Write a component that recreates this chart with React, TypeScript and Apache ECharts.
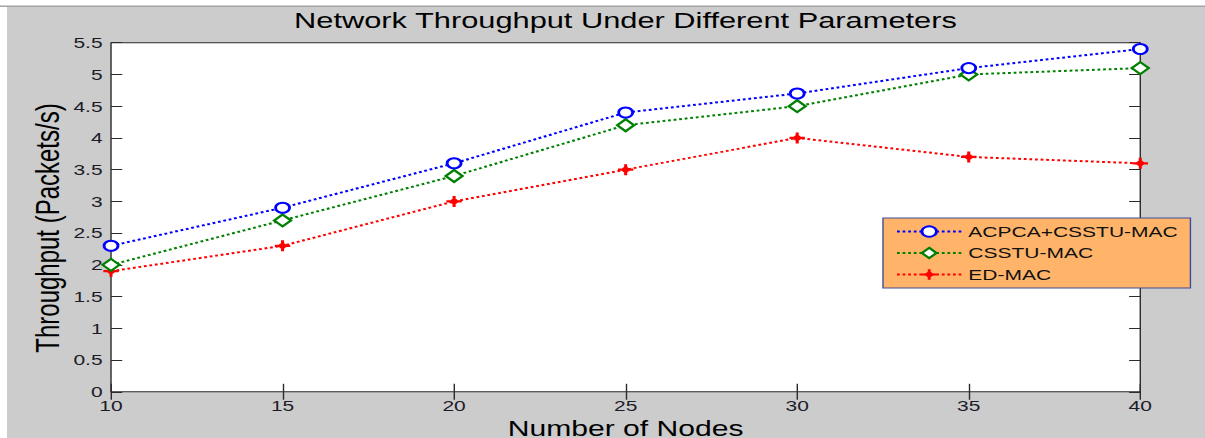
import React, { useEffect, useRef } from "react";
import * as echarts from "echarts";

const nodes = [10, 15, 20, 25, 30, 35, 40];
const acpcaValues = [2.3, 2.9, 3.6, 4.4, 4.7, 5.1, 5.4];
const csstuValues = [2.0, 2.7, 3.4, 4.2, 4.5, 5.0, 5.1];
const edValues = [1.9, 2.3, 3.0, 3.5, 4.0, 3.7, 3.6];
const seriesNames = ["ACPCA+CSSTU-MAC", "CSSTU-MAC", "ED-MAC"];

const W = 1205;
const H = 438;
const SX = 1.4; // horizontal stretch of the original figure
const BW = W / SX;
const FONT = "'Liberation Sans', Arial, Helvetica, sans-serif";
const STAR = "path://M4,0H6V4H10V6H6V10H4V6H0V4H4Z M5,1.5L8.5,5L5,8.5L1.5,5Z";

export default function App() {
  const ref = useRef<HTMLDivElement>(null);
  useEffect(() => {
    document.body.style.margin = "0";
    document.body.style.overflow = "hidden";
    const chart = echarts.init(ref.current!, null, { renderer: "svg" });
    const pairs = (ys: number[]) => nodes.map((x, i) => [x, ys[i]]);
    const gridLeft = 79.3;
    const gridRight = BW - 814.2;
    const gridTop = 42.7;
    const gridBottom = H - 391.8;
    const plotCx = (gridLeft + (BW - gridRight)) / 2;
    const tickStyle = { color: "#2b2b2b", width: 1 };
    const xBase = {
      type: "value" as const,
      min: 10,
      max: 40,
      interval: 5,
      splitLine: { show: false },
      axisLine: { show: false },
      axisTick: { show: true, inside: true, length: 8, lineStyle: tickStyle },
    };
    const yBase = {
      type: "value" as const,
      min: 0,
      max: 5.5,
      interval: 0.5,
      splitLine: { show: false },
      axisLine: { show: false },
      axisTick: { show: true, inside: true, length: 8, lineStyle: tickStyle },
    };
    const line = (color: string) => ({
      color,
      width: 2,
      type: [2, 2] as number[],
    });
    chart.setOption({
      animation: false,
      backgroundColor: "#cccccc",
      textStyle: { fontFamily: FONT },
      title: {
        text: "Network Throughput Under Different Parameters",
        left: plotCx,
        top: 10,
        textAlign: "center",
        padding: 0,
        textStyle: { fontSize: 22, fontWeight: "normal", color: "#000", fontFamily: FONT },
      },
      graphic: [
        { type: "rect", shape: { x: 0, y: 0, width: BW, height: 6 }, style: { fill: "#ffffff" }, silent: true },
        { type: "rect", shape: { x: 0, y: 0, width: 5, height: H }, style: { fill: "#ffffff" }, silent: true },
        { type: "rect", shape: { x: 0, y: 5.5, width: BW, height: 1.5 }, style: { fill: "#a4a4a4" }, silent: true },
        {
          type: "text",
          x: 34,
          y: 228,
          rotation: Math.PI / 2,
          style: {
            text: "Throughput (Packets/s)",
            fontSize: 24,
            fontFamily: FONT,
            fill: "#000",
            textAlign: "center",
            textVerticalAlign: "middle",
          },
        },
      ],
      grid: {
        show: true,
        left: gridLeft,
        right: gridRight,
        top: gridTop,
        bottom: gridBottom,
        containLabel: false,
        outerBoundsMode: "none",
        backgroundColor: "#ffffff",
        borderColor: "#2b2b2b",
        borderWidth: 1,
      },
      xAxis: [
        {
          ...xBase,
          position: "bottom",
          name: "Number of Nodes",
          nameLocation: "middle",
          nameGap: 22,
          nameTextStyle: { fontSize: 21.5, lineHeight: 20, color: "#000", fontFamily: FONT },
          axisLabel: { fontSize: 15, color: "#1c1c28", margin: 6, fontFamily: FONT },
        },
        { ...xBase, position: "top", axisLabel: { show: false } },
      ],
      yAxis: [
        {
          ...yBase,
          position: "left",
          axisLabel: { fontSize: 15, color: "#1c1c28", margin: 6, fontFamily: FONT },
        },
        { ...yBase, position: "right", axisLabel: { show: false } },
      ],
      legend: {
        orient: "vertical",
        left: 630.7,
        top: 218,
        padding: [6, 9, 6, 9],
        itemGap: 6.5,
        itemWidth: 46,
        itemHeight: 13,
        backgroundColor: "#ffb469",
        borderColor: "#3f4c9e",
        borderWidth: 1,
        borderRadius: 0,
        textStyle: { fontSize: 15, color: "#111", fontFamily: FONT },
        data: seriesNames,
      },
      series: [
        {
          name: seriesNames[2],
          type: "line",
          data: pairs(edValues),
          symbol: STAR,
          symbolSize: 11,
          lineStyle: line("#ff0000"),
          itemStyle: { color: "#ff0000" },
          z: 3,
        },
        {
          name: seriesNames[1],
          type: "line",
          data: pairs(csstuValues),
          symbol: "emptyDiamond",
          symbolSize: 12,
          lineStyle: line("#008000"),
          itemStyle: { color: "#008000", borderColor: "#008000", borderWidth: 2 },
          z: 4,
        },
        {
          name: seriesNames[0],
          type: "line",
          data: pairs(acpcaValues),
          symbol: "emptyCircle",
          symbolSize: 10,
          lineStyle: line("#0000ff"),
          itemStyle: { color: "#0000ff", borderColor: "#0000ff", borderWidth: 2 },
          z: 5,
        },
      ],
    });
    return () => chart.dispose();
  }, []);
  return (
    <div style={{ width: W, height: H, overflow: "hidden" }}>
      <div
        ref={ref}
        style={{
          width: BW,
          height: H,
          transform: `scaleX(${SX})`,
          transformOrigin: "0 0",
        }}
      />
    </div>
  );
}
